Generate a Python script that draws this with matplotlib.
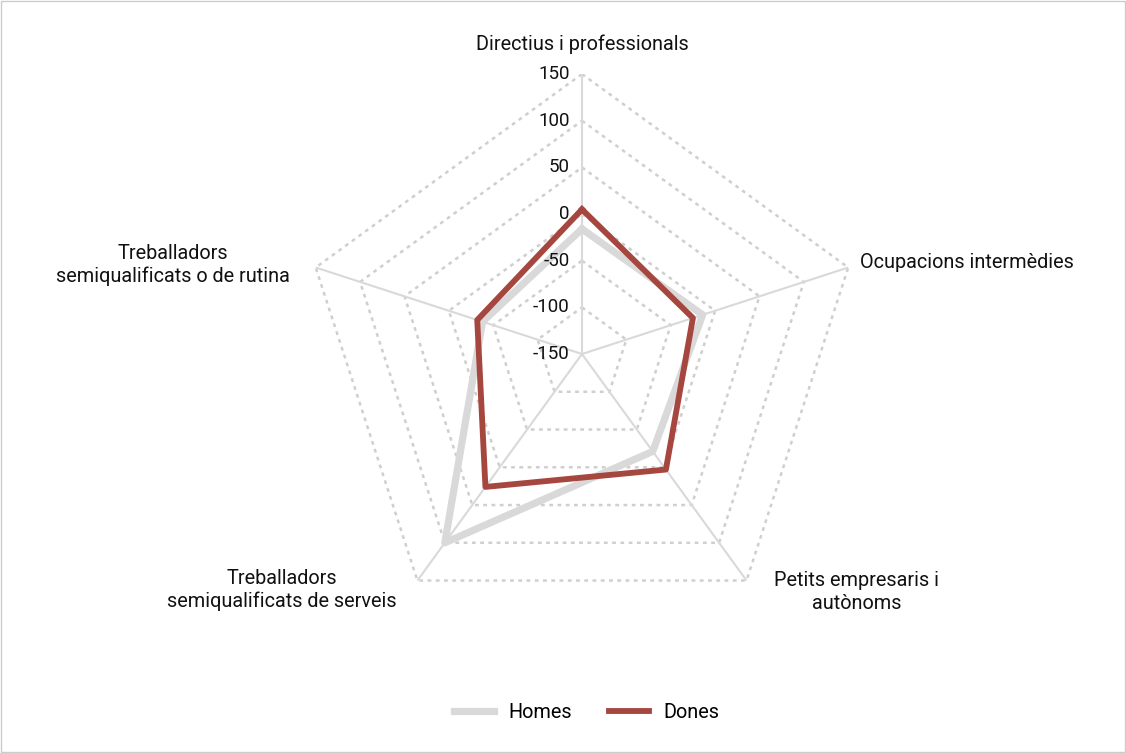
import matplotlib
matplotlib.use("Agg")
import matplotlib.pyplot as plt
import numpy as np

plt.rcParams['font.family'] = ['Roboto', 'DejaVu Sans']

categories = ["Directius i professionals", "Ocupacions intermèdies",
              "Petits empresaris i\nautònoms", "Treballadors\nsemiqualificats de serveis",
              "Treballadors\nsemiqualificats o de rutina"]
homes = [-16, -14, -21, 100, -38]
dones = [5, -25, 3, 26, -32]
ticks = [-150, -100, -50, 0, 50, 100, 150]

n = len(categories)
# first axis points up, others go clockwise
angles = np.pi / 2 - np.arange(n) * 2 * np.pi / n
ang_closed = np.append(angles, angles[0])

fig = plt.figure(figsize=(11.26, 7.53), dpi=100)
ax = fig.add_axes([0.2682, 0.158, 0.4973, 0.7437], projection='polar')
ax.set_ylim(-150, 150)
ax.set_xticks([])
ax.set_yticks([])
ax.grid(False)
ax.spines['polar'].set_visible(False)
ax.patch.set_alpha(0)

grid_c = "#cfcfcf"
for t in ticks[1:]:
    ax.plot(ang_closed, [t] * (n + 1), color=grid_c, lw=1.8, ls=(0, (1.5, 1.8)), zorder=1)
for a in angles:
    ax.plot([a, a], [-150, 150], color="#d9d9d9", lw=1.5, zorder=1)

ax.plot(ang_closed, homes + homes[:1], color="#d9d9d9", lw=5.2, label="Homes", zorder=3)
ax.plot(ang_closed, dones + dones[:1], color="#a5463f", lw=4.2, label="Dones", zorder=4)

for t in ticks:
    ax.annotate(str(t), xy=(np.pi / 2, t), xytext=(-9, 0), textcoords="offset points",
                ha="right", va="center", fontsize=13.5, color="#111111")

label_pos = [(582, 44, "center"), (860, 263, "left"), (857, 592, "center"),
             (282, 590, "center"), (173, 265, "center")]
for (px, py, ha), lab in zip(label_pos, categories):
    fig.text(px / 1126, 1 - py / 753, lab, ha=ha, va="center", fontsize=14.3,
             color="#111111", linespacing=1.25)

fig.legend(loc="center", bbox_to_anchor=(0.521, 0.054), ncol=2, frameon=False,
           fontsize=14.3, handlelength=2.0, columnspacing=1.9, handletextpad=0.7)

fig.add_artist(plt.Rectangle((0.001, 0.001), 0.998, 0.998, transform=fig.transFigure,
                             fill=False, edgecolor="#cccccc", lw=1))

fig.savefig("out.png", dpi=100)
